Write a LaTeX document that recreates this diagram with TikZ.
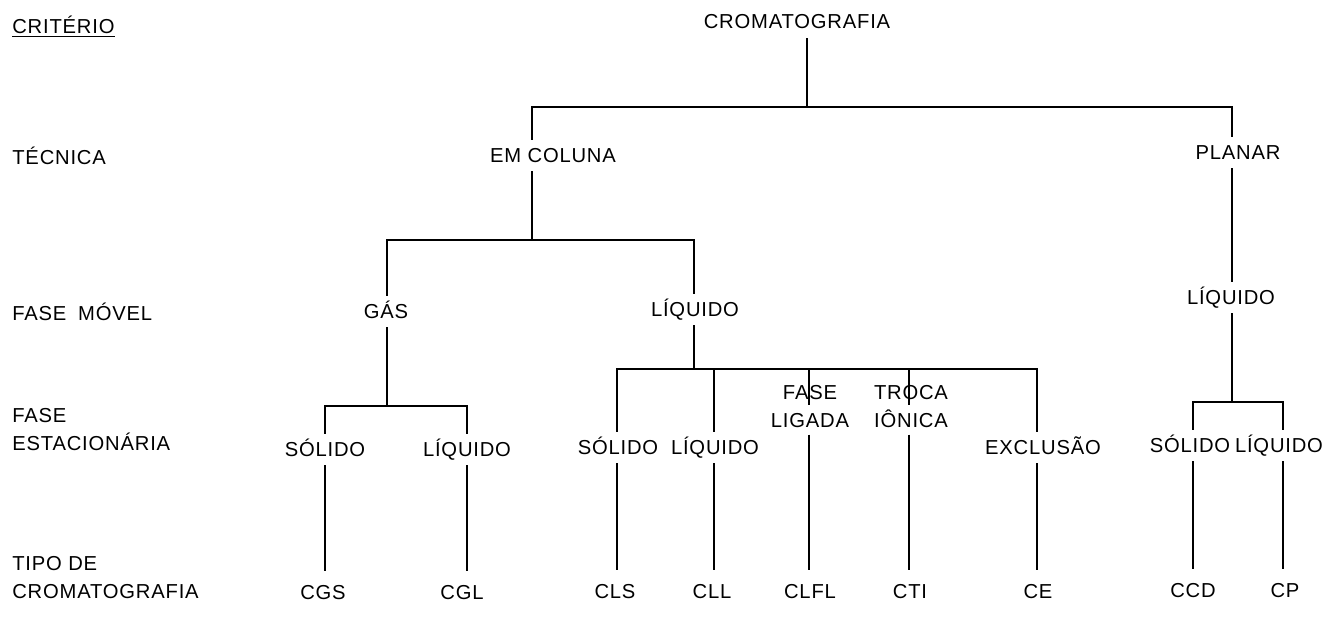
\documentclass[tikz,border=0pt]{standalone}
\usepackage{fontspec}
\setmainfont{Liberation Sans}[LetterSpace=4]

\begin{document}
\begin{tikzpicture}[
  x=0.02cm, y=-0.02cm,
  txt/.style={anchor=base, inner sep=4pt, align=center,
    font=\fontsize{11.5}{15.5}\selectfont},
  one/.style={txt, text height=8.5pt, text depth=1pt},
  two/.style={txt, text height=8.5pt},
  cod/.style={one, inner sep=7pt},
  crit/.style={txt, anchor=base west, inner sep=0pt, align=left},
  ln/.style={line width=1pt}
]
  \useasboundingbox (0,0) rectangle (1325,625);

  % --- Criterios ---
  \node[crit] (ncrit) at (12,34)  {\underline{CRITÉRIO}};
  \node[crit] (ntec)  at (12,164) {TÉCNICA};
  \node[crit] (nmov)  at (12,320) {FASE\hspace{3pt} MÓVEL};
  \node[crit] (nest)  at (12,450) {FASE\\ESTACIONÁRIA};
  \node[crit] (ntipo) at (12,598) {TIPO DE\\CROMATOGRAFIA};

  % --- Noeuds ---
  \node[one] (crom)   at (797,29)  {CROMATOGRAFIA};
  \node[one] (emcol)  at (553,162) {EM COLUNA};
  \node[one] (planar) at (1238,159) {PLANAR};

  \node[one] (gas)    at (386,318) {GÁS};
  \node[one] (liqcol) at (695,316) {LÍQUIDO};
  \node[one] (liqpla) at (1231,304) {LÍQUIDO};

  \node[one] (solgas) at (325,456) {SÓLIDO};
  \node[one] (liqgas) at (467,456) {LÍQUIDO};
  \node[one] (solliq) at (618,454) {SÓLIDO};
  \node[one] (liqliq) at (715,454) {LÍQUIDO};
  \node[two] (ligada) at (810,427) {FASE\\LIGADA};
  \node[two] (ionica) at (911,427) {TROCA\\IÔNICA};
  \node[one] (exclus) at (1043,454) {EXCLUSÃO};
  \node[one] (solpla) at (1190,452) {SÓLIDO};
  \node[one] (liqpp)  at (1279,452) {LÍQUIDO};

  \node[cod] (cgs)  at (323,599)  {CGS};
  \node[cod] (cgl)  at (462,599)  {CGL};
  \node[cod] (cls)  at (615,598)  {CLS};
  \node[cod] (cll)  at (712,598)  {CLL};
  \node[cod] (clfl) at (810,598)  {CLFL};
  \node[cod] (cti)  at (910,598)  {CTI};
  \node[cod] (ce)   at (1038,598) {CE};
  \node[cod] (ccd)  at (1193,597) {CCD};
  \node[cod] (cp)   at (1285,597) {CP};

  % --- Ligacoes ---

  % Cromatografia -> tecnica
  \coordinate (k0)  at (807,107);
  \coordinate (k0a) at (532,107);
  \coordinate (k0b) at (1232,107);
  \draw[ln] (crom.south -| k0) -- (k0);
  \draw[ln] (k0a |- emcol.north) -- (k0a) -- (k0b) -- (k0b |- planar.north);

  % Em coluna -> fase movel
  \coordinate (k1a) at (387,240);
  \coordinate (k1b) at (694,240);
  \draw[ln] (k0a |- emcol.south) -- (k0a |- k1a);
  \draw[ln] (k1a |- gas.north) -- (k1a) -- (k1b) -- (k1b |- liqcol.north);

  % Gas -> fase estacionaria -> tipo
  \coordinate (k2a) at (325,406);
  \coordinate (k2b) at (467,406);
  \draw[ln] (k1a |- gas.south) -- (k1a |- k2a);
  \draw[ln] (k2a |- solgas.north) -- (k2a) -- (k2b) -- (k2b |- liqgas.north);
  \draw[ln] (k2a |- solgas.south) -- (k2a |- cgs.north);
  \draw[ln] (k2b |- liqgas.south) -- (k2b |- cgl.north);

  % Liquido (coluna) -> fase estacionaria -> tipo
  \coordinate (k3a) at (617,369);
  \coordinate (k3b) at (714,369);
  \coordinate (k3c) at (809,369);
  \coordinate (k3d) at (909,369);
  \coordinate (k3e) at (1037,369);
  \draw[ln] (k1b |- liqcol.south) -- (k1b |- k3a);
  \draw[ln] (k3a |- solliq.north) -- (k3a) -- (k3e) -- (k3e |- exclus.north);
  \draw[ln] (k3b) -- (k3b |- liqliq.north);
  \draw[ln] (k3c) -- (k3c |- ligada.north);
  \draw[ln] (k3d) -- (k3d |- ionica.north);
  \draw[ln] (k3a |- solliq.south) -- (k3a |- cls.north);
  \draw[ln] (k3b |- liqliq.south) -- (k3b |- cll.north);
  \draw[ln] (k3c |- ligada.south) -- (k3c |- clfl.north);
  \draw[ln] (k3d |- ionica.south) -- (k3d |- cti.north);
  \draw[ln] (k3e |- exclus.south) -- (k3e |- ce.north);

  % Planar -> liquido -> fase estacionaria -> tipo
  \coordinate (k4a) at (1193,402);
  \coordinate (k4b) at (1283,402);
  \draw[ln] (k0b |- planar.south) -- (k0b |- liqpla.north);
  \draw[ln] (k0b |- liqpla.south) -- (k0b |- k4a);
  \draw[ln] (k4a |- solpla.north) -- (k4a) -- (k4b) -- (k4b |- liqpp.north);
  \draw[ln] (k4a |- solpla.south) -- (k4a |- ccd.north);
  \draw[ln] (k4b |- liqpp.south) -- (k4b |- cp.north);

\end{tikzpicture}
\end{document}
